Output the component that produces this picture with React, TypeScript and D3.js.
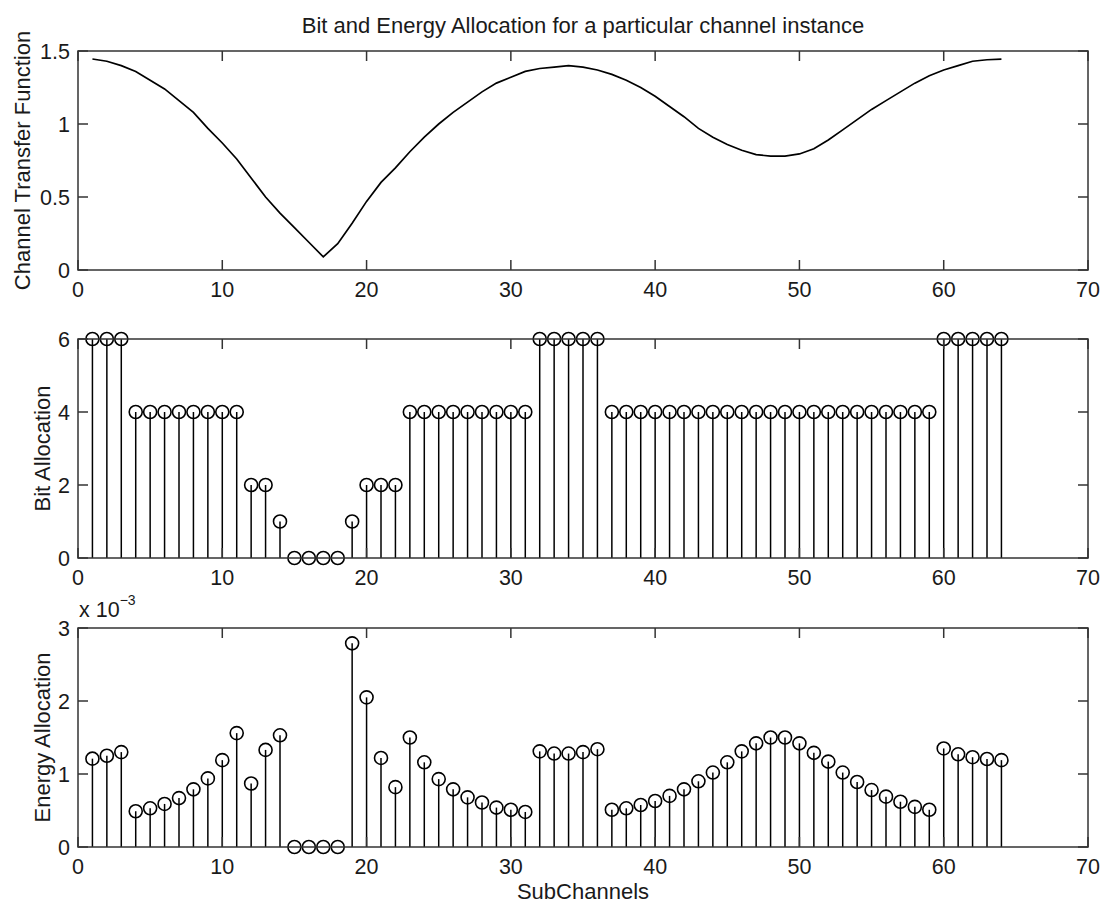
import React, { useRef, useEffect } from 'react';
import * as d3 from 'd3';

// subchannel index 1..64
const subChannels = [
  1, 2, 3, 4, 5, 6, 7, 8, 9, 10, 11, 12, 13, 14, 15, 16,
  17, 18, 19, 20, 21, 22, 23, 24, 25, 26, 27, 28, 29, 30, 31, 32,
  33, 34, 35, 36, 37, 38, 39, 40, 41, 42, 43, 44, 45, 46, 47, 48,
  49, 50, 51, 52, 53, 54, 55, 56, 57, 58, 59, 60, 61, 62, 63, 64,
];

// |H| per subchannel
const channelGain = [
  1.445, 1.43, 1.4, 1.36, 1.3, 1.24, 1.16, 1.08, 0.97, 0.87, 0.76, 0.63, 0.5, 0.39, 0.29, 0.19,
  0.09, 0.18, 0.32, 0.47, 0.6, 0.7, 0.81, 0.91, 1.0, 1.08, 1.15, 1.22, 1.28, 1.32, 1.36, 1.38,
  1.39, 1.4, 1.39, 1.37, 1.34, 1.3, 1.25, 1.19, 1.12, 1.05, 0.97, 0.91, 0.86, 0.82, 0.79, 0.78,
  0.78, 0.795, 0.83, 0.89, 0.96, 1.03, 1.1, 1.16, 1.22, 1.28, 1.33, 1.37, 1.4, 1.43, 1.44, 1.445,
];

const bits = [
  6, 6, 6, 4, 4, 4, 4, 4, 4, 4, 4, 2, 2, 1, 0, 0,
  0, 0, 1, 2, 2, 2, 4, 4, 4, 4, 4, 4, 4, 4, 4, 6,
  6, 6, 6, 6, 4, 4, 4, 4, 4, 4, 4, 4, 4, 4, 4, 4,
  4, 4, 4, 4, 4, 4, 4, 4, 4, 4, 4, 6, 6, 6, 6, 6,
];

// energy in units of 1e-3
const energy = [
  1.21, 1.25, 1.3, 0.49, 0.53, 0.59, 0.67, 0.79, 0.94, 1.19, 1.56, 0.87, 1.33, 1.53, 0, 0,
  0, 0, 2.79, 2.05, 1.22, 0.82, 1.5, 1.16, 0.93, 0.79, 0.68, 0.61, 0.54, 0.51, 0.48, 1.31,
  1.28, 1.28, 1.3, 1.34, 0.51, 0.53, 0.575, 0.63, 0.7, 0.79, 0.9, 1.02, 1.16, 1.31, 1.42, 1.5,
  1.5, 1.42, 1.29, 1.17, 1.02, 0.89, 0.78, 0.69, 0.62, 0.55, 0.51, 1.35, 1.27, 1.23, 1.205, 1.19,
];

const xTicks = [0, 10, 20, 30, 40, 50, 60, 70];
const channelTicks = [0, 0.5, 1, 1.5];
const bitTicks = [0, 2, 4, 6];
const energyTicks = [0, 1, 2, 3];

const W = 1111;
const H = 905;
const FONT = '"Liberation Sans", Arial, Helvetica, sans-serif';
const INK = '#1a1a1a';
const TICK_FS = 21.5;
const LABEL_FS = 22;

export default function App() {
  const svgRef = useRef<SVGSVGElement>(null);

  useEffect(() => {
    if (!svgRef.current) return;
    const svg = d3.select(svgRef.current);
    svg.selectAll('*').remove();

    svg.append('rect').attr('width', W).attr('height', H).attr('fill', '#fff');

    const x = d3.scaleLinear().domain([0, 70]).range([78, 1088]);
    const [x0, x1] = x.range();

    const frame = (
      y: d3.ScaleLinear<number, number>,
      ticks: number[],
      label: string,
      labelX: number
    ) => {
      const [yb, yt] = y.range();
      const g = svg.append('g');
      g.append('rect')
        .attr('x', x0).attr('y', yt)
        .attr('width', x1 - x0).attr('height', yb - yt)
        .attr('fill', 'none').attr('stroke', '#333').attr('stroke-width', 1.5);

      xTicks.forEach(t => {
        g.append('line').attr('x1', x(t)).attr('x2', x(t)).attr('y1', yb).attr('y2', yb - 10)
          .attr('stroke', '#333').attr('stroke-width', 1.5);
        g.append('line').attr('x1', x(t)).attr('x2', x(t)).attr('y1', yt).attr('y2', yt + 10)
          .attr('stroke', '#333').attr('stroke-width', 1.5);
        g.append('text').attr('x', x(t)).attr('y', yb + 27)
          .attr('text-anchor', 'middle').attr('font-size', TICK_FS).attr('font-family', FONT)
          .attr('fill', INK).text(String(t));
      });

      ticks.forEach(t => {
        g.append('line').attr('x1', x0).attr('x2', x0 + 10).attr('y1', y(t)).attr('y2', y(t))
          .attr('stroke', '#333').attr('stroke-width', 1.5);
        g.append('line').attr('x1', x1).attr('x2', x1 - 10).attr('y1', y(t)).attr('y2', y(t))
          .attr('stroke', '#333').attr('stroke-width', 1.5);
        g.append('text').attr('x', x0 - 8).attr('y', y(t)).attr('dy', '0.36em')
          .attr('text-anchor', 'end').attr('font-size', TICK_FS).attr('font-family', FONT)
          .attr('fill', INK).text(String(t));
      });

      g.append('text')
        .attr('transform', `translate(${labelX},${(yb + yt) / 2}) rotate(-90)`)
        .attr('dy', '0.36em')
        .attr('text-anchor', 'middle').attr('font-size', LABEL_FS).attr('font-family', FONT)
        .attr('fill', INK).text(label);
    };

    const stems = (y: d3.ScaleLinear<number, number>, values: number[]) => {
      const g = svg.append('g');
      subChannels.forEach((k, i) => {
        g.append('line')
          .attr('x1', x(k)).attr('x2', x(k))
          .attr('y1', y(0)).attr('y2', y(values[i]))
          .attr('stroke', '#000').attr('stroke-width', 1.5);
        g.append('circle')
          .attr('cx', x(k)).attr('cy', y(values[i])).attr('r', 6.5)
          .attr('fill', 'none').attr('stroke', '#000').attr('stroke-width', 1.6);
      });
    };

    // panel 1: channel transfer function
    const y1 = d3.scaleLinear().domain([0, 1.5]).range([270, 51]);
    const line = d3.line<number>()
      .x((_, i) => x(subChannels[i]))
      .y(d => y1(d));
    svg.append('path')
      .attr('d', line(channelGain))
      .attr('fill', 'none').attr('stroke', '#000').attr('stroke-width', 1.7);
    frame(y1, channelTicks, 'Channel Transfer Function', 22);

    // panel 2: bit allocation
    const y2 = d3.scaleLinear().domain([0, 6]).range([558, 339]);
    stems(y2, bits);
    frame(y2, bitTicks, 'Bit Allocation', 42);

    // panel 3: energy allocation
    const y3 = d3.scaleLinear().domain([0, 3]).range([847, 628]);
    stems(y3, energy);
    frame(y3, energyTicks, 'Energy Allocation', 42);

    const mult = svg.append('text').attr('x', x0 + 1).attr('y', 617)
      .attr('font-size', TICK_FS).attr('font-family', FONT).attr('fill', INK);
    mult.append('tspan').text('x 10');
    mult.append('tspan').attr('dy', -12).attr('font-size', 14).text('\u22123');

    svg.append('text').attr('x', (x0 + x1) / 2).attr('y', 33)
      .attr('text-anchor', 'middle').attr('font-size', LABEL_FS).attr('font-family', FONT)
      .attr('fill', INK).text('Bit and Energy Allocation for a particular channel instance');

    svg.append('text').attr('x', (x0 + x1) / 2).attr('y', 899)
      .attr('text-anchor', 'middle').attr('font-size', LABEL_FS).attr('font-family', FONT)
      .attr('fill', INK).text('SubChannels');
  }, []);

  return (
    <svg
      ref={svgRef}
      width={W}
      height={H}
      style={{ position: 'absolute', left: 0, top: 0, display: 'block' }}
    />
  );
}
